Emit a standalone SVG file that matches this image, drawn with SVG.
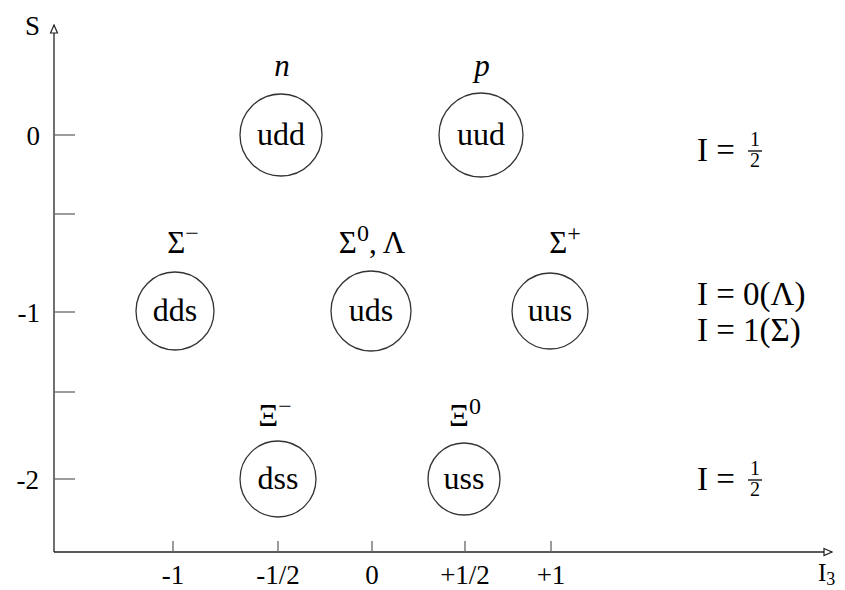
<svg xmlns="http://www.w3.org/2000/svg" width="845" height="590" viewBox="0 0 845 590">
<defs>
<style>
text{font-family:"Liberation Serif","Times New Roman",serif;fill:#000}
.ax{stroke:#222;stroke-width:1.3;fill:none}
.tk{stroke:#666;stroke-width:1.3}
.c{fill:#fff;stroke:#333;stroke-width:1.3}
.q{font-size:32px;text-anchor:middle}
.lb{font-size:31px;text-anchor:middle}
.sp{font-size:24px}
.al{font-size:27px}
.rt{font-size:33px}
.fr{font-size:20px;text-anchor:middle}
</style>
<marker id="ah" viewBox="0 0 10 10" refX="9" refY="5" markerWidth="10" markerHeight="10" markerUnits="userSpaceOnUse" orient="auto">
<path d="M1,1.5 L9,5 L1,8.5 Z" fill="#fff" stroke="#222" stroke-width="1.2"/>
</marker>
</defs>
<g id="connectors">
<line class="ax" x1="54" y1="552" x2="54" y2="25" marker-end="url(#ah)"/>
<line class="ax" x1="54" y1="552" x2="832" y2="552" marker-end="url(#ah)"/>
<line class="tk" x1="54" y1="135" x2="75" y2="135"/>
<line class="tk" x1="54" y1="214" x2="75" y2="214"/>
<line class="tk" x1="54" y1="312" x2="75" y2="312"/>
<line class="tk" x1="54" y1="392" x2="75" y2="392"/>
<line class="tk" x1="54" y1="479" x2="75" y2="479"/>
<line class="tk" x1="173" y1="541" x2="173" y2="552"/>
<line class="tk" x1="278" y1="541" x2="278" y2="552"/>
<line class="tk" x1="372" y1="541" x2="372" y2="552"/>
<line class="tk" x1="465" y1="541" x2="465" y2="552"/>
<line class="tk" x1="551" y1="541" x2="551" y2="552"/>
</g>
<g id="axis-labels">
<text x="25" y="35" style="font-size:27px">S</text>
<text class="al" x="40" y="145" text-anchor="end">0</text>
<text class="al" x="40" y="322" text-anchor="end">-1</text>
<text class="al" x="39" y="489" text-anchor="end">-2</text>
<text class="al" x="173" y="584" text-anchor="middle">-1</text>
<text class="al" x="278" y="584" text-anchor="middle">-1/2</text>
<text class="al" x="372" y="584" text-anchor="middle">0</text>
<text class="al" x="465" y="584" text-anchor="middle">+1/2</text>
<text class="al" x="551" y="584" text-anchor="middle">+1</text>
<text x="818" y="581" style="font-size:25px">I<tspan dy="4" style="font-size:18px">3</tspan></text>
</g>
<g id="udd"><circle class="c" cx="281" cy="135" r="41"/><text class="q" x="281" y="145">udd</text><text class="lb" x="282" y="76" font-style="italic">n</text></g>
<g id="uud"><circle class="c" cx="481" cy="135" r="42"/><text class="q" x="481" y="145">uud</text><text class="lb" x="482" y="76" font-style="italic">p</text></g>
<g id="dds"><circle class="c" cx="175" cy="311" r="39"/><text class="q" x="175" y="321">dds</text><text class="lb" x="183" y="253">Σ<tspan class="sp" dy="-12">−</tspan></text></g>
<g id="uds"><circle class="c" cx="371" cy="311" r="40"/><text class="q" x="371" y="321">uds</text><text class="lb" x="372" y="253">Σ<tspan class="sp" dy="-12">0</tspan><tspan dy="12">, Λ</tspan></text></g>
<g id="uus"><circle class="c" cx="550" cy="311" r="38"/><text class="q" x="550" y="321">uus</text><text class="lb" x="565" y="253">Σ<tspan class="sp" dy="-12">+</tspan></text></g>
<g id="dss"><circle class="c" cx="278" cy="479" r="38"/><text class="q" x="278" y="489">dss</text><text class="lb" x="275" y="426">Ξ<tspan class="sp" dy="-12">−</tspan></text></g>
<g id="uss"><circle class="c" cx="464" cy="479" r="36"/><text class="q" x="464" y="489">uss</text><text class="lb" x="465" y="426">Ξ<tspan class="sp" dy="-12">0</tspan></text></g>
<g id="isospin">
<text class="rt" x="697" y="161">I =</text>
<text class="fr" x="755" y="146">1</text>
<line x1="748" y1="151" x2="762" y2="151" stroke="#000" stroke-width="1.3"/>
<text class="fr" x="755" y="167">2</text>
<text class="rt" x="697" y="305">I = 0(Λ)</text>
<text class="rt" x="697" y="341">I = 1(Σ)</text>
<text class="rt" x="697" y="490">I =</text>
<text class="fr" x="755" y="475">1</text>
<line x1="748" y1="480" x2="762" y2="480" stroke="#000" stroke-width="1.3"/>
<text class="fr" x="755" y="496">2</text>
</g>
</svg>
